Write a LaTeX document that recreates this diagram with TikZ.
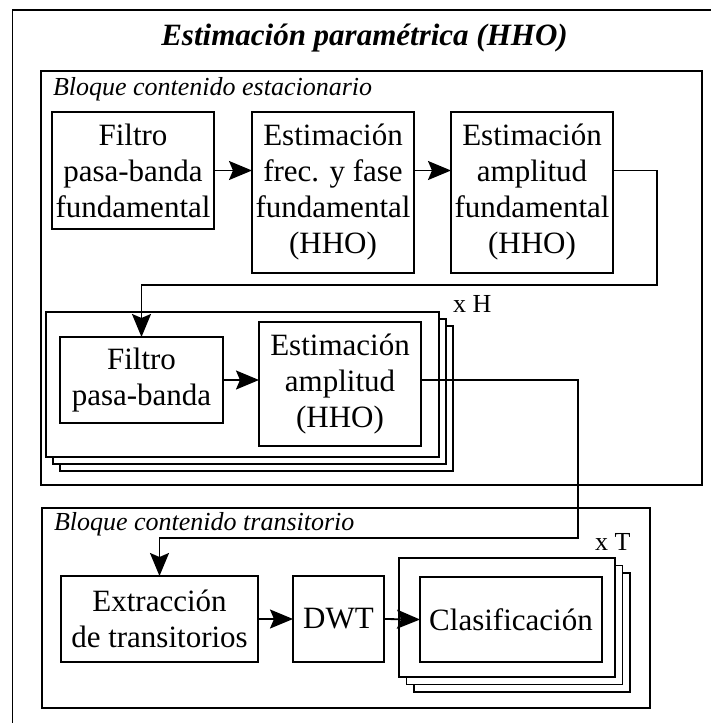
\documentclass[tikz,border=0pt]{standalone}
\usepackage{fontspec}
\setmainfont{Liberation Serif}
\usetikzlibrary{arrows.meta}
\begin{document}
\begin{tikzpicture}[x=1pt,y=-1pt,
  line width=1.8pt,
  every node/.style={inner sep=0pt, outer sep=0pt},
  blk/.style={draw, fill=white, align=center, font=\fontsize{31}{36}\selectfont},
  group/.style={draw},
  sheet/.style={draw, fill=white},
  arr/.style={-{Stealth[length=23pt,width=19pt,inset=4pt]}},
  lbl/.style={font=\fontsize{26}{30}\selectfont\itshape, anchor=base west},
  mult/.style={font=\fontsize{26}{30}\selectfont, anchor=base west}]

\useasboundingbox (0,0) rectangle (711,723);

% outer frame (open to the right and bottom)
\draw (12.5,723) -- (12.5,10) -- (711,10);
\node[font=\fontsize{31}{36}\selectfont\bfseries\itshape, anchor=base] (title) at (364.5,45) {Estimación paramétrica (HHO)};

% stationary block
\node[group, minimum width=661pt, minimum height=414pt] (est) at (371.5,278) {};
\node[lbl] (lest) at (53,95) {Bloque contenido estacionario};

\node[blk, minimum width=162pt, minimum height=117pt] (b1) at (133,170.5) {Filtro\\pasa-banda\\fundamental};
\node[blk, minimum width=162pt, minimum height=161pt] (b2) at (333,192.5) {Estimación\\frec. y fase\\fundamental\\(HHO)};
\node[blk, minimum width=162pt, minimum height=161pt] (b3) at (532,192.5) {Estimación\\amplitud\\fundamental\\(HHO)};

% harmonic stack (x H)
\node[sheet, minimum width=393pt, minimum height=145pt] (hs3) at (256.5,398.5) {};
\node[sheet, minimum width=393pt, minimum height=145pt] (hs2) at (249.5,391.5) {};
\node[sheet, minimum width=393pt, minimum height=145pt] (hs1) at (242.5,384.5) {};
\node[mult] (xh) at (453,312) {x H};
\node[blk, minimum width=163pt, minimum height=86pt] (flt) at (141.5,380) {Filtro\\pasa-banda};
\node[blk, minimum width=162pt, minimum height=124pt] (amp) at (340,384) {Estimación\\amplitud\\(HHO)};

% transient block
\node[group, minimum width=608pt, minimum height=200pt] (tra) at (346,608) {};
\node[lbl] (ltr) at (54,530) {Bloque contenido transitorio};

\node[blk, minimum width=197pt, minimum height=86pt] (ext) at (159.5,619) {Extracción\\de transitorios};
\node[blk, minimum width=91pt, minimum height=86pt] (dwt) at (338.5,619) {DWT};

% classifier stack (x T)
\node[sheet, minimum width=216pt, minimum height=119pt] (ts3) at (522,632.5) {};
\node[sheet, minimum width=216pt, minimum height=119pt] (ts2) at (514.5,625) {};
\node[sheet, minimum width=216pt, minimum height=119pt] (ts1) at (507,617.5) {};
\node[mult] (xt) at (595,550) {x T};
\node[blk, minimum width=182pt, minimum height=85pt] (clas) at (511,619.5) {Clasificación};

% connectors
\coordinate (k1) at (657,285);
\coordinate (k2) at (578,538);
\draw[arr] (b1.east) -- (b1.east -| b2.west);
\draw[arr] (b1.east -| b2.east) -- (b1.east -| b3.west);
\draw[arr] (b1.east -| b3.east) -| (k1) -| (flt.north);
\draw[arr] (flt.east) -- (flt.east -| amp.west);
\draw[arr] (flt.east -| amp.east) -| (k2) -| (ext.north);
\draw[arr] (ext.east) -- (dwt.west);
\draw[arr] (dwt.east) -- (clas.west);
\end{tikzpicture}
\end{document}
